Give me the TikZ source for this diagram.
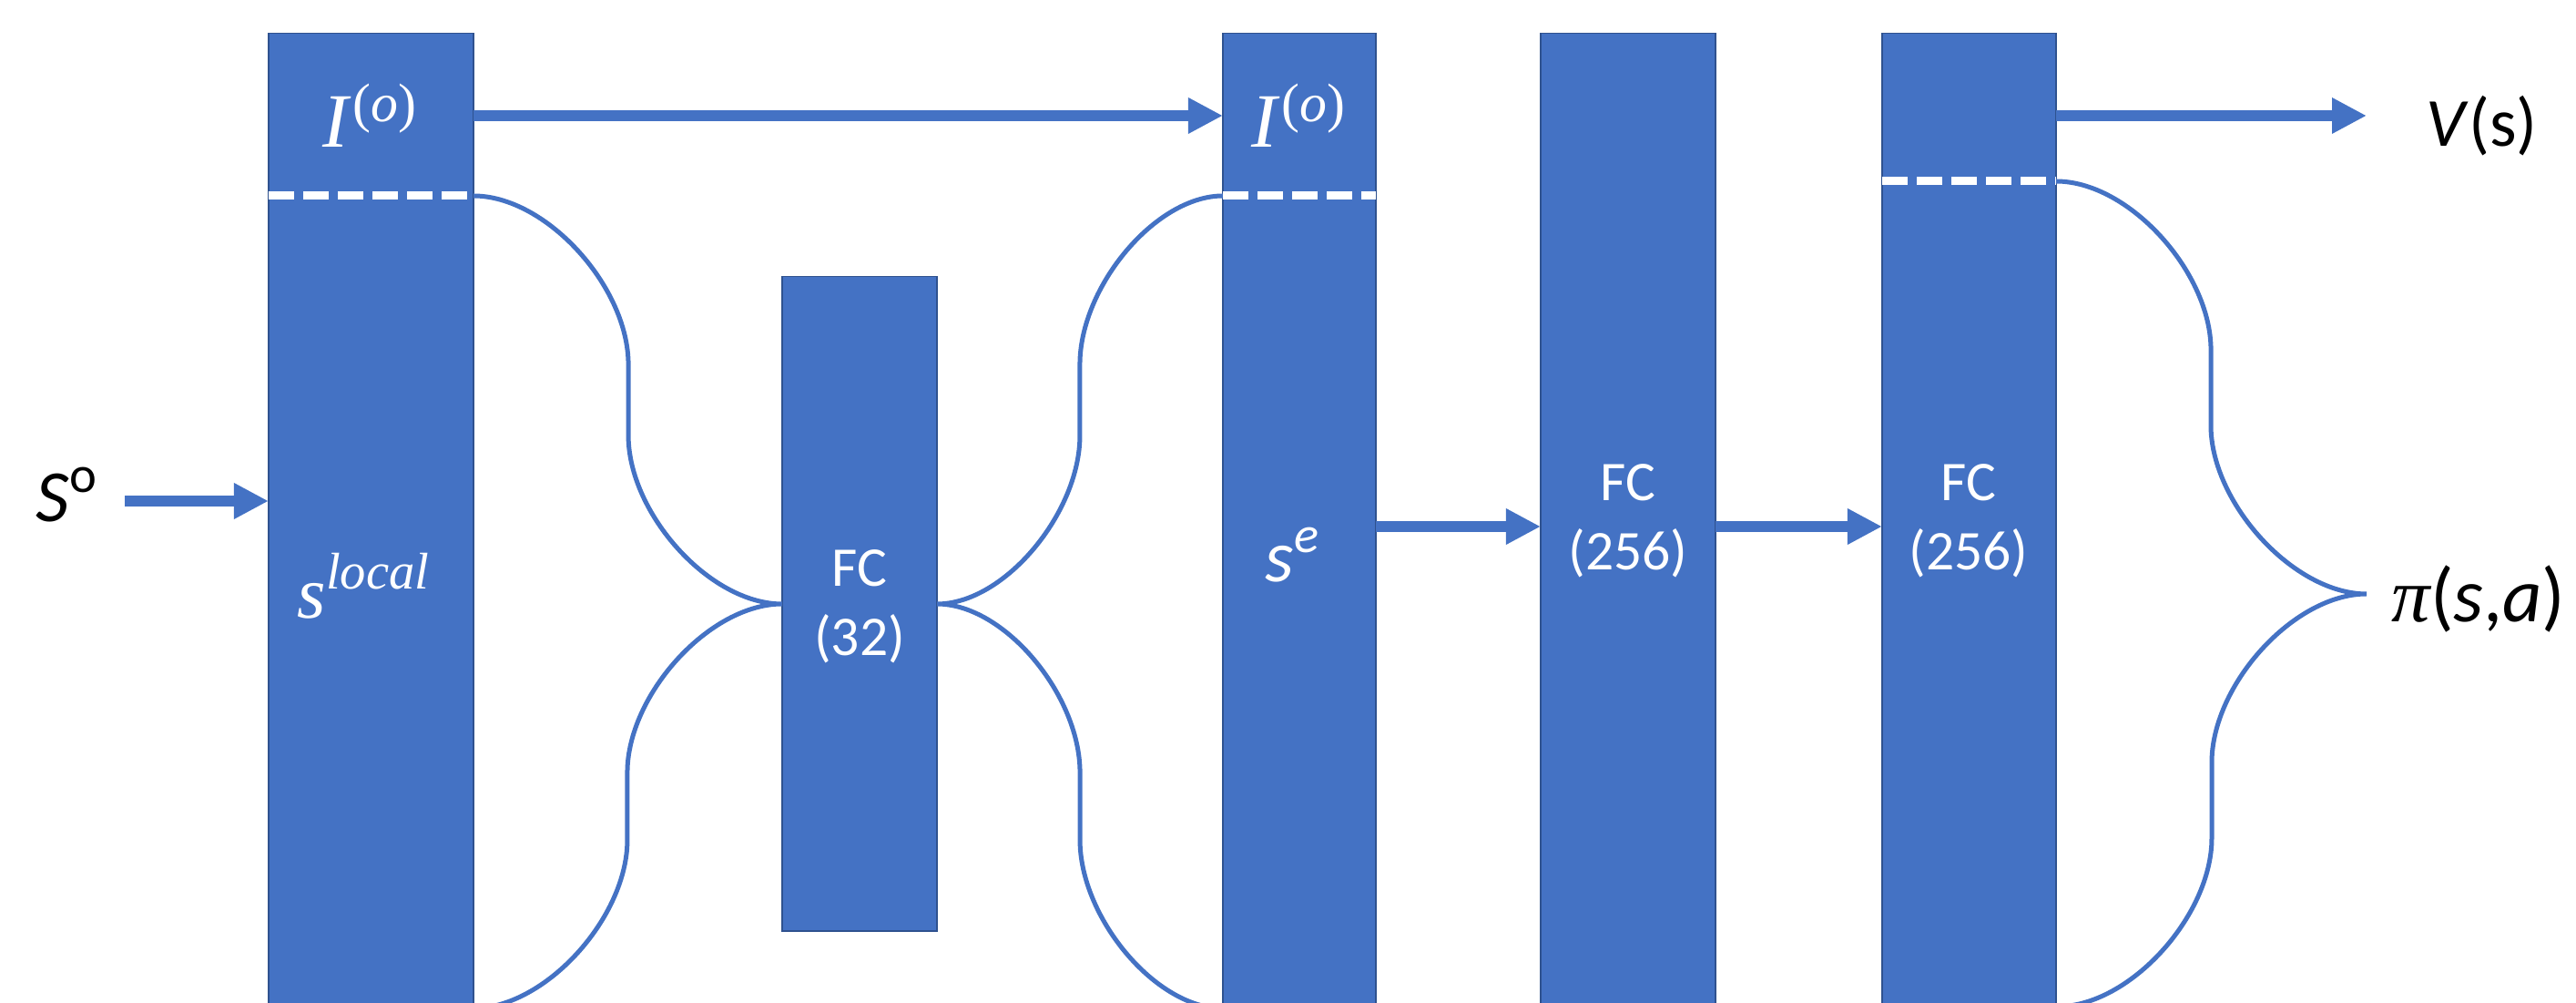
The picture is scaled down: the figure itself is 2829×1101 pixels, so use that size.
\documentclass[tikz,border=0pt]{standalone}
\usepackage{fontspec}
\setmainfont{Carlito}
\newfontfamily\symfont{Liberation Serif}
\usetikzlibrary{arrows.meta}
\definecolor{ppblue}{HTML}{4472C4}
\definecolor{ppedge}{HTML}{2F528F}
% italic I with a raised (o), as printed on the input layers
\newcommand{\iolabel}{{\symfont\fontsize{24}{24}\selectfont\itshape I}\hspace{1.5pt}\raisebox{8pt}{\symfont\fontsize{17}{17}\selectfont(\textit{o})}}
\begin{document}
\begin{tikzpicture}[x=0.01cm,y=-0.01cm,
  layer/.style={fill=ppblue, draw=ppedge, line width=0.4pt, inner sep=0pt, outer sep=0pt},
  tall/.style={layer, minimum height=10.83cm},
  arr/.style={draw=ppblue, line width=0.12cm, -{Triangle[length=0.38cm, width=0.37cm]}},
  brace/.style={draw=ppblue, line width=0.05cm},
  split/.style={draw=white, line width=0.09cm, dash pattern=on 0.28cm off 0.10cm},
  inlbl/.style={text=white, inner sep=0pt, align=center, font=\fontsize{17.5}{21.5}\selectfont},
  biglbl/.style={inner sep=0pt, font=\fontsize{23}{27}\selectfont}]
\useasboundingbox (0,0) rectangle (2829,1101);
\clip (0,0) rectangle (2829,1101);
\fill[white] (0,0) rectangle (2829,1101);

% layers
\node[tall, minimum width=2.25cm] (bar1) at (407.5,578.5) {};
\node[layer, minimum width=1.70cm, minimum height=7.18cm] (fc1) at (944,663) {};
\node[tall, minimum width=1.68cm] (bar3) at (1427,578.5) {};
\node[tall, minimum width=1.92cm] (bar4) at (1788,578.5) {};
\node[tall, minimum width=1.91cm] (bar5) at (2162.5,578.5) {};

% dashed splits inside the layers
\draw[split] (bar1.west |- 0,215) -- (bar1.east |- 0,215);
\draw[split] (bar3.west |- 0,215) -- (bar3.east |- 0,215);
\draw[split] (bar5.west |- 0,199) -- (bar5.east |- 0,199);

% labels inside the layers
\node[inner sep=0pt, text=white] (io1) at (406,127) {\iolabel};
\node[inner sep=0pt, text=white] (io2) at (1426,127) {\iolabel};
\node[biglbl, text=white] (sloc) at (400,643) {\symfont\itshape s\textsuperscript{local}};
\node[biglbl, text=white] (se) at (1420,609) {\textit{s}\textsuperscript{\textit{e}}};
\node[inlbl] (t1) at (944,666) {FC\\(32)};
\node[inlbl] (t4) at (1788,572) {FC\\(256)};
\node[inlbl] (t5) at (2162,572) {FC\\(256)};

% outside labels
\node[biglbl] (so) at (74,543) {\textit{S}\textsuperscript{o}};
\coordinate (sostart) at (137,550);
\coordinate (vtip) at (2599,127);
\node[biglbl, anchor=west, font=\fontsize{21.5}{25}\selectfont] (vs) at (2664,138) {\textit{V}(s)};
\coordinate (pitip) at (2599,652);
\node[biglbl, anchor=west, font=\fontsize{24}{28}\selectfont] (pi) at (2626,657) {{\symfont\itshape π}(\textit{s},\textit{a})};

% straight connections
\draw[arr] (sostart) -- (sostart -| bar1.west);
\draw[arr] (bar1.east |- 0,127) -- (bar3.west |- 0,127);
\draw[arr] (bar3.east |- 0,578) -- (bar4.west |- 0,578);
\draw[arr] (bar4.east |- 0,578) -- (bar5.west |- 0,578);
\draw[arr] (bar5.east |- 0,127) -- (vtip);

% braces
\draw[brace] (bar1.east |- 0,215) .. controls +(80,0) and +(0,-85) .. ++(170,185)
  -- ++(0,78) .. controls +(0,85) and +(-80,0) .. (fc1.west)
  .. controls +(-80,0) and +(0,-85) .. ++(-170,185)
  -- ++(0,74) .. controls +(0,85) and +(80,0) .. ++(-170,185);
\draw[brace] (bar3.west |- 0,215) .. controls +(-74,0) and +(0,-85) .. ++(-157,185)
  -- ++(0,78) .. controls +(0,85) and +(74,0) .. (fc1.east)
  .. controls +(74,0) and +(0,-85) .. ++(157,185)
  -- ++(0,74) .. controls +(0,85) and +(-74,0) .. ++(157,185);
\draw[brace] (bar5.east |- 0,199) .. controls +(80,0) and +(0,-85) .. ++(170,185)
  -- (2428,467) .. controls +(0,85) and +(-80,0) .. (pitip)
  .. controls +(-80,0) and +(0,-85) .. ++(-170,185)
  -- (2429,920) .. controls +(0,85) and +(80,0) .. (2259,1105);
\end{tikzpicture}
\end{document}
